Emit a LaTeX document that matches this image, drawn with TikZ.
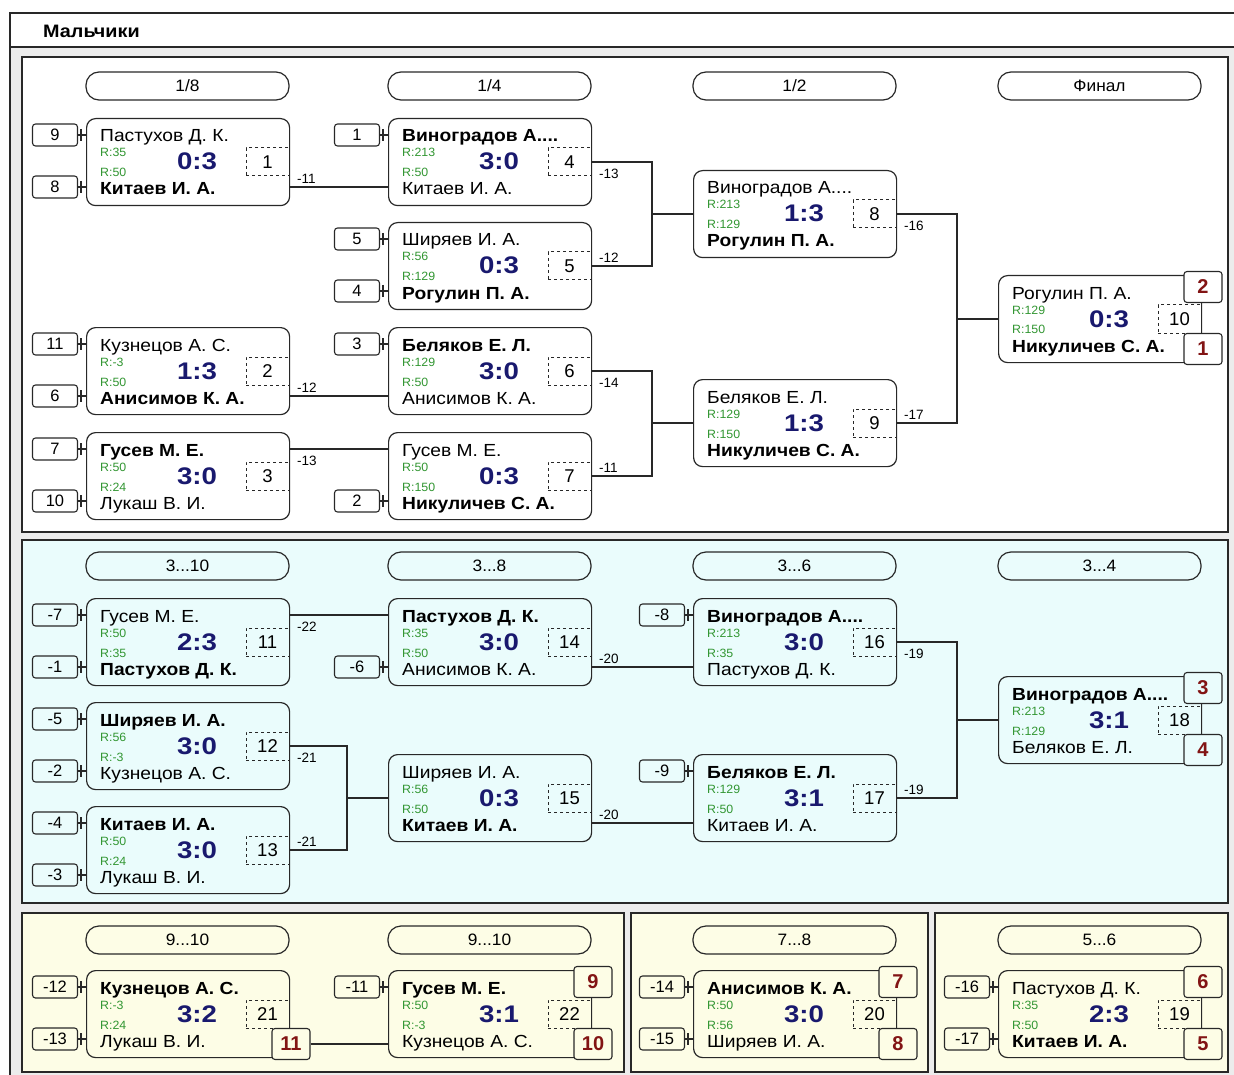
\documentclass[tikz,border=0pt]{standalone}
\usepackage{fontspec}
\setmainfont{Liberation Sans}
\usepackage{graphicx}
\usetikzlibrary{calc}
\definecolor{cyanbg}{RGB}{234,252,252}
\definecolor{yelbg}{RGB}{253,253,230}
\definecolor{graybg}{RGB}{236,236,236}
\definecolor{lc}{RGB}{40,40,40}
\definecolor{rgreen}{RGB}{50,150,50}
\definecolor{scblue}{RGB}{25,25,110}
\definecolor{plred}{RGB}{130,20,20}
\newcommand\xs[2]{\scalebox{#1}[1]{#2}}
\tikzset{
 matchbox/.style={draw=lc, line width=1.2pt, rounded corners=9pt, minimum width=203pt, minimum height=87pt, inner sep=0pt, anchor=north west},
 seedbox/.style={draw=lc, line width=1.1pt, rounded corners=3pt, minimum width=45pt, minimum height=22pt, inner sep=0pt, font=\fontsize{16.5}{16.5}\selectfont},
 placebox/.style={draw=lc, line width=1.1pt, rounded corners=3pt, minimum width=38pt, minimum height=31pt, inner sep=0pt, font=\fontsize{20}{20}\selectfont\bfseries, text=plred},
 numbox/.style={draw=lc, dashed, line width=1pt, minimum width=43pt, minimum height=28pt, inner sep=0pt, font=\fontsize{18.5}{18.5}\selectfont},
 pill/.style={draw=lc, line width=1.2pt, rounded corners=13pt, minimum width=203pt, minimum height=28pt, inner sep=0pt, font=\fontsize{16.5}{16.5}\selectfont},
 nm/.style={anchor=base west, inner sep=0pt, font=\fontsize{17.5}{17.5}\selectfont},
 rt/.style={anchor=base west, inner sep=0pt, font=\fontsize{12}{12}\selectfont, text=rgreen},
 sc/.style={anchor=base, inner sep=0pt, font=\fontsize{24}{24}\selectfont\bfseries, text=scblue},
 lbl/.style={inner sep=0pt, font=\fontsize{13.5}{13.5}\selectfont, anchor=west},
 conn/.style={draw=lc, line width=1.2pt},
}
\newcommand\mymatch[9]{%
 \node[matchbox] (#1) at (#2,#3) {};
 \node[numbox] (#1-num) at (#2+181.5,#3+44) {#9};
 \node[nm] (#1-a) at (#2+14,#3+24) {\xs{1.1}{#4}};
 \node[rt] (#1-ra) at (#2+14,#3+39) {\xs{1.03}{#5}};
 \node[sc] (#1-sc) at (#2+111,#3+52) {\xs{1.15}{#6}};
 \node[rt] (#1-rb) at (#2+14,#3+59) {\xs{1.03}{#7}};
 \node[nm] (#1-b) at (#2+14,#3+77) {\xs{1.1}{#8}};
 \coordinate (#1-in1) at (#2,#3+17);
 \coordinate (#1-in2) at (#2,#3+69);
 \coordinate (#1-inm) at (#2,#3+44);
 \coordinate (#1-out1) at (#2+203,#3+17);
 \coordinate (#1-out2) at (#2+203,#3+69);
 \coordinate (#1-outm) at (#2+203,#3+44);
}
\newcommand\myseed[5]{%
 \node[seedbox] (#1) at (#2,#3) {#4};
 \draw[conn] (#1.east) -- (#5);
 \draw[conn] ([xshift=3pt]#1.east) ++(0,-6) -- ++(0,12);
}
\newcommand\myplace[5]{\node[placebox, fill=#5] (#1) at (#2,#3) {#4};}
\newcommand\mylabel[4]{\node[lbl] (#1) at ($(#2)+(8,#4)$) {#3};}
\begin{document}
\begin{tikzpicture}[x=1pt,y=-1pt]
\useasboundingbox (0,0) rectangle (1234,1075);
\fill[white] (0,0) rectangle (1234,1075);
\fill[graybg] (10,47) rectangle (1234,1075);
\draw[lc, line width=1.3pt] (1240,13) -- (10,13) -- (10,1080);
\draw[lc, line width=1.3pt] (10,47) -- (1240,47);
\node[anchor=base west, inner sep=0pt, font=\fontsize{18}{18}\selectfont\bfseries] (hdr) at (43,38) {\xs{1.1}{Мальчики}};
% panels
\draw[lc, line width=1.3pt, fill=white] (22,57) rectangle (1228,532);
\draw[lc, line width=1.3pt, fill=cyanbg] (22,540) rectangle (1228,903);
\draw[lc, line width=1.3pt, fill=yelbg] (22,913) rectangle (624,1072);
\draw[lc, line width=1.3pt, fill=yelbg] (631,913) rectangle (928,1072);
\draw[lc, line width=1.3pt, fill=yelbg] (935,913) rectangle (1228,1072);
% pills
\node[pill] (r18) at (187.5,86) {\xs{1.05}{1/8}};
\node[pill] (r14) at (489.5,86) {\xs{1.05}{1/4}};
\node[pill] (r12) at (794.5,86) {\xs{1.05}{1/2}};
\node[pill] (rfin) at (1099.5,86) {\xs{1.05}{Финал}};
\node[pill] (r310) at (187.5,566) {\xs{1.05}{3...10}};
\node[pill] (r38) at (489.5,566) {\xs{1.05}{3...8}};
\node[pill] (r36) at (794.5,566) {\xs{1.05}{3...6}};
\node[pill] (r34) at (1099.5,566) {\xs{1.05}{3...4}};
\node[pill] (r910a) at (187.5,940) {\xs{1.05}{9...10}};
\node[pill] (r910b) at (489.5,940) {\xs{1.05}{9...10}};
\node[pill] (r78) at (794.5,940) {\xs{1.05}{7...8}};
\node[pill] (r56) at (1099.5,940) {\xs{1.05}{5...6}};
% top panel matches
\mymatch{m1}{86}{118}{Пастухов Д. К.}{R:35}{0:3}{R:50}{\bfseries Китаев И. А.}{1}
\mymatch{m2}{86}{327}{Кузнецов А. С.}{R:-3}{1:3}{R:50}{\bfseries Анисимов К. А.}{2}
\mymatch{m3}{86}{432}{\bfseries Гусев М. Е.}{R:50}{3:0}{R:24}{Лукаш В. И.}{3}
\mymatch{m4}{388}{118}{\bfseries Виноградов А....}{R:213}{3:0}{R:50}{Китаев И. А.}{4}
\mymatch{m5}{388}{222}{Ширяев И. А.}{R:56}{0:3}{R:129}{\bfseries Рогулин П. А.}{5}
\mymatch{m6}{388}{327}{\bfseries Беляков Е. Л.}{R:129}{3:0}{R:50}{Анисимов К. А.}{6}
\mymatch{m7}{388}{432}{Гусев М. Е.}{R:50}{0:3}{R:150}{\bfseries Никуличев С. А.}{7}
\mymatch{m8}{693}{170}{Виноградов А....}{R:213}{1:3}{R:129}{\bfseries Рогулин П. А.}{8}
\mymatch{m9}{693}{379}{Беляков Е. Л.}{R:129}{1:3}{R:150}{\bfseries Никуличев С. А.}{9}
\mymatch{m10}{998}{275}{Рогулин П. А.}{R:129}{0:3}{R:150}{\bfseries Никуличев С. А.}{10}
% middle panel matches
\mymatch{m11}{86}{598}{Гусев М. Е.}{R:50}{2:3}{R:35}{\bfseries Пастухов Д. К.}{11}
\mymatch{m12}{86}{702}{\bfseries Ширяев И. А.}{R:56}{3:0}{R:-3}{Кузнецов А. С.}{12}
\mymatch{m13}{86}{806}{\bfseries Китаев И. А.}{R:50}{3:0}{R:24}{Лукаш В. И.}{13}
\mymatch{m14}{388}{598}{\bfseries Пастухов Д. К.}{R:35}{3:0}{R:50}{Анисимов К. А.}{14}
\mymatch{m15}{388}{754}{Ширяев И. А.}{R:56}{0:3}{R:50}{\bfseries Китаев И. А.}{15}
\mymatch{m16}{693}{598}{\bfseries Виноградов А....}{R:213}{3:0}{R:35}{Пастухов Д. К.}{16}
\mymatch{m17}{693}{754}{\bfseries Беляков Е. Л.}{R:129}{3:1}{R:50}{Китаев И. А.}{17}
\mymatch{m18}{998}{676}{\bfseries Виноградов А....}{R:213}{3:1}{R:129}{Беляков Е. Л.}{18}
% bottom panel matches
\mymatch{m21}{86}{970}{\bfseries Кузнецов А. С.}{R:-3}{3:2}{R:24}{Лукаш В. И.}{21}
\mymatch{m22}{388}{970}{\bfseries Гусев М. Е.}{R:50}{3:1}{R:-3}{Кузнецов А. С.}{22}
\mymatch{m20}{693}{970}{\bfseries Анисимов К. А.}{R:50}{3:0}{R:56}{Ширяев И. А.}{20}
\mymatch{m19}{998}{970}{Пастухов Д. К.}{R:35}{2:3}{R:50}{\bfseries Китаев И. А.}{19}
% seeds
\myseed{s1a}{55}{135}{9}{m1-in1}
\myseed{s1b}{55}{187}{8}{m1-in2}
\myseed{s2a}{55}{344}{11}{m2-in1}
\myseed{s2b}{55}{396}{6}{m2-in2}
\myseed{s3a}{55}{449}{7}{m3-in1}
\myseed{s3b}{55}{501}{10}{m3-in2}
\myseed{s4a}{357}{135}{1}{m4-in1}
\myseed{s5a}{357}{239}{5}{m5-in1}
\myseed{s5b}{357}{291}{4}{m5-in2}
\myseed{s6a}{357}{344}{3}{m6-in1}
\myseed{s7b}{357}{501}{2}{m7-in2}
\myseed{s11a}{55}{615}{-7}{m11-in1}
\myseed{s11b}{55}{667}{-1}{m11-in2}
\myseed{s12a}{55}{719}{-5}{m12-in1}
\myseed{s12b}{55}{771}{-2}{m12-in2}
\myseed{s13a}{55}{823}{-4}{m13-in1}
\myseed{s13b}{55}{875}{-3}{m13-in2}
\myseed{s14b}{357}{667}{-6}{m14-in2}
\myseed{s16a}{662}{615}{-8}{m16-in1}
\myseed{s17a}{662}{771}{-9}{m17-in1}
\myseed{s21a}{55}{987}{-12}{m21-in1}
\myseed{s21b}{55}{1039}{-13}{m21-in2}
\myseed{s22a}{357}{987}{-11}{m22-in1}
\myseed{s20a}{662}{987}{-14}{m20-in1}
\myseed{s20b}{662}{1039}{-15}{m20-in2}
\myseed{s19a}{967}{987}{-16}{m19-in1}
\myseed{s19b}{967}{1039}{-17}{m19-in2}
% connectors top
\draw[conn] (m1-out2) -- (m4-in2);
\draw[conn] (m2-out2) -- (m6-in2);
\draw[conn] (m3-out1) -- (m7-in1);
\coordinate (j45) at (652,214);
\draw[conn] (m4-outm) -| (j45) |- (m5-outm);
\draw[conn] (j45) -- (m8-inm);
\coordinate (j67) at (652,423);
\draw[conn] (m6-outm) -| (j67) |- (m7-outm);
\draw[conn] (j67) -- (m9-inm);
\coordinate (j89) at (957,319);
\draw[conn] (m8-outm) -| (j89) |- (m9-outm);
\draw[conn] (j89) -- (m10-inm);
% connectors middle
\draw[conn] (m11-out1) -- (m14-in1);
\draw[conn] (m14-out2) -- (m16-in2);
\draw[conn] (m15-out2) -- (m17-in2);
\coordinate (j1213) at (347,798);
\draw[conn] (m12-outm) -| (j1213) |- (m13-outm);
\draw[conn] (j1213) -- (m15-inm);
\coordinate (j1617) at (957,720);
\draw[conn] (m16-outm) -| (j1617) |- (m17-outm);
\draw[conn] (j1617) -- (m18-inm);
% places
\myplace{p10a}{1203}{287}{2}{white}
\myplace{p10b}{1203}{349}{1}{white}
\myplace{p18a}{1203}{688}{3}{cyanbg}
\myplace{p18b}{1203}{750}{4}{cyanbg}
\myplace{p21b}{291}{1044}{11}{yelbg}
\myplace{p22a}{593}{982}{9}{yelbg}
\myplace{p22b}{593}{1044}{10}{yelbg}
\myplace{p20a}{898}{982}{7}{yelbg}
\myplace{p20b}{898}{1044}{8}{yelbg}
\myplace{p19a}{1203}{982}{6}{yelbg}
\myplace{p19b}{1203}{1044}{5}{yelbg}
\draw[conn] (p21b.east) -- (p21b.east -| m22.west);
% labels
\mylabel{l1}{m1-out2}{-11}{-8}
\mylabel{l2}{m2-out2}{-12}{-8}
\mylabel{l3}{m3-out1}{-13}{12}
\mylabel{l4}{m4-outm}{-13}{12}
\mylabel{l5}{m5-outm}{-12}{-8}
\mylabel{l6}{m6-outm}{-14}{12}
\mylabel{l7}{m7-outm}{-11}{-8}
\mylabel{l8}{m8-outm}{-16}{12}
\mylabel{l9}{m9-outm}{-17}{-8}
\mylabel{l11}{m11-out1}{-22}{12}
\mylabel{l12}{m12-outm}{-21}{12}
\mylabel{l13}{m13-outm}{-21}{-8}
\mylabel{l14}{m14-out2}{-20}{-8}
\mylabel{l15}{m15-out2}{-20}{-8}
\mylabel{l16}{m16-outm}{-19}{12}
\mylabel{l17}{m17-outm}{-19}{-8}
\end{tikzpicture}
\end{document}
